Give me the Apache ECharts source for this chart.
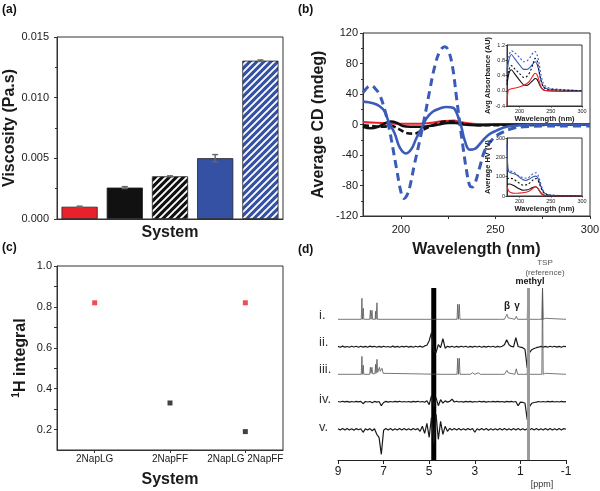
<!DOCTYPE html>
<html><head><meta charset="utf-8">
<script src="https://cdn.jsdelivr.net/npm/echarts@6/dist/echarts.min.js"></script>
<style>html,body{margin:0;padding:0;background:#fff}#c{width:600px;height:491px}</style>
</head><body><div id="c"></div>
<script>
const FONT = 'Liberation Sans, Arial, Helvetica, sans-serif';

// ---------- (a) viscosity ----------
const viscCategories = ['2NapLG', '2NapFF', '2NapFF (ii)', '2NapLG 2NapFF', '2NapLG 2NapFF (ii)'];
const viscValues = [0.00101, 0.00259, 0.00352, 0.00501, 0.01305];
const viscErrors = [0.00005, 0.00008, 0.00004, 0.00030, 0.00006];

// ---------- (b) CD ----------
const cdRed = [[180,3],[190,2],[200,1],[210,1],[215,2],[222,4],[228,5],[232,3],[238,1],[245,0],[300,0]];
const cdBlackSolid = [[180,-3],[184,-5],[188,-3],[192,2],[195,4],[198,2],[201,-2],[205,-3],[210,-3],[215,-2],[220,0],[225,2],[229,2],[233,0],[240,-1],[250,0],[300,0]];
const cdBlackDash = [[180,-1],[184,-2],[190,-3],[195,-2],[199,-6],[203,-11],[207,-12],[211,-8],[215,-3],[219,1],[223,4],[227,4],[231,2],[236,0],[245,-1],[300,0]];
const cdBlueSolid = [[180,30],[185.3,28],[188.8,24],[191.5,17],[193.2,6],[196.8,-12],[199.4,-30],[202.6,-38],[205.6,-32],[208.2,-18],[210.9,-5],[213.5,8],[217,17],[220.6,21],[224,23],[227.6,22],[230.3,10],[232,-3],[233.8,-21],[236.4,-33],[239.1,-32],[242.6,-23],[246.1,-14],[250.6,-8],[255.9,-3],[262.9,-1],[270,0],[300,0]];
const cdBlueDash = [[180,42],[181,45],[182.5,49],[184.4,51],[186.5,47],[188.8,39],[191.5,19],[194,-7],[195,-20],[197.6,-56],[200.3,-91],[201.7,-97],[203,-94],[204.7,-82],[207.3,-51],[210,-21],[212.6,10],[215.3,45],[217.9,76],[220.6,96],[223.2,102],[225,98],[227.3,76],[229.4,36],[231.2,1],[232.9,-30],[234.7,-60],[236.4,-80],[237.8,-82],[239.1,-78],[241.7,-56],[244.4,-34],[247.9,-21],[252.3,-12],[259.4,-5],[265,-3],[275,-2],[290,-2],[300,-2]];

// inset: absorbance
const absRed = [[180,-0.4],[181,-0.1],[182.5,0.02],[187,0.05],[195,0.08],[203,0.12],[210,0.17],[216,0.25],[221,0.38],[225,0.46],[228,0.42],[231,0.28],[234,0.12],[238,0.02],[245,0.0],[300,-0.02]];
const absBlackSolid = [[180,0.15],[183,0.45],[187,0.55],[192,0.45],[200,0.28],[207,0.15],[212,0.14],[217,0.2],[222,0.28],[225,0.32],[228,0.3],[231,0.2],[234,0.1],[238,0.03],[245,0.0],[300,-0.02]];
const absBlackDash = [[180,0.25],[183,0.55],[187,0.66],[192,0.58],[200,0.45],[207,0.35],[212,0.38],[217,0.5],[222,0.72],[225,0.85],[228,0.8],[231,0.55],[234,0.3],[238,0.1],[243,0.04],[250,0.02],[300,0.0]];
const absBlueSolid = [[180,0.45],[183,0.8],[187,0.95],[192,0.85],[200,0.68],[207,0.56],[212,0.56],[217,0.62],[222,0.72],[225,0.76],[228,0.7],[231,0.52],[234,0.3],[238,0.12],[243,0.06],[250,0.04],[270,0.02],[300,0.0]];
const absBlueDash = [[180,0.55],[183,0.9],[187,1.05],[192,1.0],[200,0.88],[207,0.76],[212,0.78],[217,0.88],[222,1.0],[225,1.03],[228,0.95],[231,0.75],[234,0.45],[238,0.2],[243,0.1],[250,0.06],[270,0.03],[300,0.0]];

// inset: HV
const hvRed = [[180,55],[182,30],[185,20],[192,14],[200,15],[208,18],[215,25],[221,38],[225,48],[228,45],[231,32],[234,15],[238,5],[245,1],[300,0]];
const hvBlackSolid = [[180,60],[184,62],[190,55],[198,40],[206,30],[213,32],[220,42],[225,48],[228,45],[231,32],[234,18],[238,7],[245,2],[300,0]];
const hvBlackDash = [[180,90],[184,92],[190,88],[198,70],[206,56],[213,60],[220,78],[225,90],[228,88],[231,70],[234,45],[238,20],[243,8],[250,3],[300,0]];
const hvBlueSolid = [[180,270],[181,170],[183,125],[188,118],[195,110],[203,90],[210,80],[216,88],[222,100],[226,103],[229,95],[232,70],[236,35],[240,15],[248,5],[270,2],[300,0]];
const hvBlueDash = [[180,140],[184,130],[190,125],[197,108],[205,95],[212,92],[218,105],[223,118],[227,120],[230,105],[233,75],[237,35],[241,15],[248,6],[270,2],[300,0]];

// ---------- (c) 1H integral ----------
const intCategories = ['2NapLG', '2NapFF', '2NapLG 2NapFF'];
const intRed = [0.82, null, 0.82];
const intBlack = [null, 0.33, 0.19];

// ---------- (d) NMR (relative intensity, arbitrary units) ----------
const nmrI = [[9,0],[7.98,0],[7.95,21],[7.93,0],[7.91,0],[7.89,11],[7.87,0],[7.61,0],[7.58,9],[7.55,0],[7.54,0],[7.51,9],[7.48,0],[7.37,0],[7.35,8],[7.33,0],[7.31,0],[7.29,16.5],[7.27,0],[4.43,0],[4.40,1.5],[4.37,0],[3.78,0],[3.75,15],[3.72,0],[3.71,0],[3.68,15],[3.65,0],[1.93,0],[1.88,1],[1.83,0],[1.7,0],[1.64,1.5],[1.59,5],[1.54,1.5],[1.48,0],[1.24,0],[1.18,3],[1.12,0],[0.7,0],[0.67,31.3],[0.64,0],[0.2,0],[0.16,1],[0.12,0],[0.06,0],[0.03,31.3],[0.0,0],[-0.05,0],[-0.09,1],[-0.13,0],[-1,0]];
const nmrIII = [[9,0],[7.98,0],[7.95,18],[7.93,0],[7.91,0],[7.89,9],[7.87,0],[7.61,0],[7.58,7],[7.55,1],[7.54,1],[7.51,7],[7.48,0.5],[7.38,0.5],[7.35,10],[7.33,1],[7.31,1],[7.29,15],[7.26,2],[7.22,3],[7.18,7],[7.15,3],[7.11,4],[7.07,6],[7.02,1],[6.95,0],[4.43,0],[4.40,1.5],[4.37,0],[3.78,0],[3.75,16],[3.72,0],[3.71,0],[3.68,16],[3.65,0],[3.2,0],[3.1,1.5],[3.0,0],[2.95,0],[2.85,1.5],[2.75,0],[1.93,0],[1.88,1],[1.83,0],[1.7,0],[1.64,1.5],[1.59,4],[1.54,1.5],[1.48,0],[1.24,0],[1.18,5.5],[1.12,0],[0.7,0],[0.67,86.3],[0.64,0],[0.06,0],[0.03,86.3],[0.0,0],[-0.05,0],[-0.09,1],[-0.13,0],[-1,0]];
// noisy spectra sampled every 0.1 ppm from 9.0 down to -1.0
const nmrStep = 0.1;
const nmrII = [
  0.3,-0.5,0.6,-0.4,0.2,-0.6,0.5,-0.3,0.4,-0.5,
  0.5,-0.4,0.3,-0.6,0.6,-0.2,0.4,-0.5,0.3,-0.4,
  0.5,-0.3,0.2,-0.5,0.6,-0.4,0.3,-0.6,0.4,-0.2,
  0.5,-0.4,0.3,-0.5,0.4,-0.3,0.6,-0.5,0.8,1.5,
  6,14,-4,-6,2,-1,8,-1.5,0.5,-0.4,
  0.4,-0.5,0.3,-0.4,0.5,-0.3,0.4,-0.5,0.3,-0.4,
  0.5,-0.3,0.4,-0.5,0.3,-0.4,0.5,-0.3,0.4,-0.5,
  0.3,-0.3,0.5,2,7,2,0.3,-0.2,9,0.2,
  -0.5,-1,-2.5,-21,-6,-3,-1.8,-1,-0.5,0.3,
  -0.4,0.3,-0.5,0.4,-0.3,0.5,-0.4,0.3,-0.5,0.4,
  0];
const nmrIV = [
  0.2,-0.3,0.4,-0.2,0.3,-0.4,0.2,-0.3,0.3,-0.2,
  0.3,-2,0.2,-0.3,0.2,-1,0.3,-0.4,0.2,-4,
  -0.8,0.3,-0.4,0.2,-0.3,0.3,-0.2,0.4,-0.3,0.2,
  -0.3,0.2,-0.4,0.3,-0.2,0.4,-0.3,0.2,-0.5,1,
  -3,6,-5,4,-4,2,-1.5,0.8,-0.4,0.3,
  2.5,-0.3,0.4,-0.3,0.2,-0.4,0.3,-0.2,0.3,-0.4,
  0.2,-0.3,0.4,-0.2,0.3,-0.4,0.2,-0.3,0.3,-0.2,
  0.3,-0.2,0.2,-0.4,0.3,-0.2,0.3,-0.3,0.2,-4,
  -0.5,-0.6,-1.5,-18,-5,-1.5,-0.8,-0.4,0.2,-0.3,
  0.2,-0.3,0.3,-0.2,0.3,-0.3,0.2,-0.3,0.3,-0.2,
  0];
const nmrV = [
  0.5,-0.8,0.7,-0.6,0.9,-0.7,0.6,-0.9,0.7,-0.5,
  0.6,-3,0.5,-0.8,0.7,-1.5,0.6,-5,-8,-25,
  -1,0.8,-0.6,0.7,-0.9,0.5,-0.7,0.8,-0.6,0.7,
  -0.8,0.6,-0.7,0.9,-0.5,0.7,-2,3,-4,6,
  -8,12,-14,15,-10,8,-5,3,-2,1,
  -0.8,0.7,-0.6,0.9,-0.7,0.6,-0.8,0.7,-0.5,0.8,
  -3,0.6,-0.7,0.8,-0.6,0.7,-0.9,0.5,-0.7,0.6,
  -0.8,0.7,-0.6,0.8,-0.7,0.6,-0.8,0.7,-0.6,0.8,
  -0.7,0.6,-0.8,0.5,-0.7,0.8,-0.6,0.7,-0.8,0.6,
  -0.7,0.8,-0.6,0.7,-0.8,0.6,-0.7,0.8,-0.6,0.7,
  0];
const nmrLabels = ['i.', 'ii.', 'iii.', 'iv.', 'v.'];
const waterBand = [4.69, 4.91];
const methylPpm = 0.67;

// ---------- layout / style ----------
const RED = '#e8212b', BLACK = '#111111', BLUE = '#3451a3', BLUEL = '#3a5cb8';
const nmrOffsets = [140.7, 113.3, 85.7, 58.3, 30.7];

function hatch(bg) {
  const c = document.createElement('canvas');
  c.width = 7; c.height = 7;
  const g = c.getContext('2d');
  g.fillStyle = bg; g.fillRect(0, 0, 7, 7);
  g.strokeStyle = '#ffffff'; g.lineWidth = 1.9;
  g.beginPath();
  g.moveTo(-1, 8); g.lineTo(8, -1);
  g.moveTo(-1, 1); g.lineTo(1, -1);
  g.moveTo(6, 8); g.lineTo(8, 6);
  g.stroke();
  return { image: c, repeat: 'repeat' };
}
const barFills = [RED, BLACK, hatch(BLACK), BLUE, hatch(BLUE)];

const txt = '#1a1a1a';
function axisBase(extra) {
  return Object.assign({
    axisLine: { show: true, onZero: false, lineStyle: { color: '#333', width: 1 } },
    axisTick: { show: true, length: 3, lineStyle: { color: '#333' } },
    axisLabel: { color: txt, fontFamily: FONT, fontSize: 11 },
    splitLine: { show: false },
    nameTextStyle: { color: txt, fontFamily: FONT, fontWeight: 'bold', fontSize: 16 },
    nameLocation: 'middle'
  }, extra);
}
const gridBase = { show: true, borderColor: '#333', borderWidth: 1, backgroundColor: 'transparent', containLabel: false, outerBoundsMode: 'none' };

const chart = echarts.init(document.getElementById('c'), null, { renderer: 'canvas' });

const nmrGridOf = (vals, off) => vals.map((v, k) => [Math.round((9 - k * nmrStep) * 100) / 100, v + off]);
const shift = (arr, off) => arr.map(p => [p[0], p[1] + off]);

const series = [];
// (a) bars
series.push({
  type: 'bar', xAxisIndex: 0, yAxisIndex: 0, barCategoryGap: '20%',
  data: viscValues.map((v, i) => ({ value: v, itemStyle: { color: barFills[i] } })),
  itemStyle: { borderColor: '#222', borderWidth: 0.8 }, z: 2
});
series.push({
  type: 'custom', xAxisIndex: 0, yAxisIndex: 0, z: 5,
  data: viscValues.map((v, i) => [i, v, viscErrors[i]]),
  renderItem: (p, api) => {
    const x = api.value(0), v = api.value(1), e = api.value(2);
    const hi = api.coord([x, v + e]), lo = api.coord([x, v - e]);
    const w = 3;
    const st = { stroke: '#666', lineWidth: 1.4 };
    return { type: 'group', children: [
      { type: 'line', shape: { x1: hi[0], y1: hi[1], x2: lo[0], y2: lo[1] }, style: st },
      { type: 'line', shape: { x1: hi[0] - w, y1: hi[1], x2: hi[0] + w, y2: hi[1] }, style: st },
      { type: 'line', shape: { x1: lo[0] - w, y1: lo[1], x2: lo[0] + w, y2: lo[1] }, style: st }
    ]};
  }
});
// (b) CD main
function ln(data, color, dashed, width, xi, yi, z, smooth) {
  return { type: 'line', xAxisIndex: xi, yAxisIndex: yi, data, showSymbol: false, symbol: 'none',
    smooth: smooth === undefined ? 0.4 : smooth, z, clip: true,
    lineStyle: { color, width, type: dashed ? dashed : 'solid', cap: 'butt' } };
}
series.push(ln(cdRed, RED, null, 2.2, 1, 1, 2));
series.push(ln(cdBlackSolid, BLACK, null, 2.6, 1, 1, 2));
series.push(ln(cdBlackDash, BLACK, [6, 3], 2.6, 1, 1, 2));
series.push(ln(cdBlueSolid, BLUEL, null, 2.6, 1, 1, 2));
series.push(ln(cdBlueDash, BLUEL, [8, 5], 3, 1, 1, 2));
// insets
[[absBlueDash, BLUEL, [2, 2]], [absBlueSolid, BLUEL, null], [absBlackDash, BLACK, [2, 2]], [absBlackSolid, BLACK, null], [absRed, RED, null]]
  .forEach(s => series.push(ln(s[0], s[1], s[2], 1.1, 2, 2, 6, 0.3)));
[[hvBlueDash, BLUEL, [2, 2]], [hvBlueSolid, BLUEL, null], [hvBlackDash, BLACK, [2, 2]], [hvBlackSolid, BLACK, null], [hvRed, RED, null]]
  .forEach(s => series.push(ln(s[0], s[1], s[2], 1.1, 3, 3, 6, 0.3)));
// (c)
series.push({ type: 'scatter', xAxisIndex: 4, yAxisIndex: 4, symbol: 'rect', symbolSize: 5, data: intRed, itemStyle: { color: RED } });
series.push({ type: 'scatter', xAxisIndex: 4, yAxisIndex: 4, symbol: 'rect', symbolSize: 5, data: intBlack, itemStyle: { color: BLACK } });
// (d)
series.push({ type: 'line', xAxisIndex: 5, yAxisIndex: 5, data: [], z: 1, silent: true,
  markLine: { silent: true, symbol: 'none', label: { show: false },
    lineStyle: { color: '#9a9a9a', width: 3, type: 'solid' }, data: [{ xAxis: methylPpm }] } });
series.push(ln(shift(nmrI, nmrOffsets[0]), '#555', null, 0.8, 5, 5, 3, false));
series.push(ln(nmrGridOf(nmrII, nmrOffsets[1]), '#1a1a1a', null, 1.2, 5, 5, 3, false));
series.push(ln(shift(nmrIII, nmrOffsets[2]), '#555', null, 0.8, 5, 5, 3, false));
series.push(ln(nmrGridOf(nmrIV, nmrOffsets[3]), '#1a1a1a', null, 1.2, 5, 5, 3, false));
series.push(ln(nmrGridOf(nmrV, nmrOffsets[4]), '#1a1a1a', null, 1.2, 5, 5, 3, false));
series.push({ type: 'line', xAxisIndex: 5, yAxisIndex: 5, data: [], z: 8, silent: true,
  markArea: { silent: true, itemStyle: { color: '#000', opacity: 1 },
    data: [[{ xAxis: waterBand[0] }, { xAxis: waterBand[1] }]] } });

const insetLabel = { color: txt, fontFamily: FONT, fontSize: 5.5, margin: 2 };
const insetName = { color: txt, fontFamily: FONT, fontWeight: 'bold', fontSize: 7.5 };

const option = {
  animation: false,
  backgroundColor: '#fff',
  textStyle: { fontFamily: FONT },
  grid: [
    Object.assign({}, gridBase, { left: 57, top: 37, width: 226, height: 182 }),
    Object.assign({}, gridBase, { left: 363, top: 33, width: 227, height: 183 }),
    Object.assign({}, gridBase, { left: 507, top: 45, width: 75, height: 61, backgroundColor: '#fff', z: 3 }),
    Object.assign({}, gridBase, { left: 507, top: 138, width: 75, height: 58, backgroundColor: '#fff', z: 3 }),
    Object.assign({}, gridBase, { left: 57, top: 266, width: 226, height: 184 }),
    { left: 338, top: 288, width: 228, height: 172, show: false, containLabel: false, outerBoundsMode: 'none' }
  ],
  xAxis: [
    axisBase({ gridIndex: 0, type: 'category', data: viscCategories, name: 'System', nameGap: 6,
      axisTick: { show: false }, axisLabel: { show: false } }),
    axisBase({ gridIndex: 1, type: 'value', min: 180, max: 300, name: 'Wavelength (nm)', nameGap: 26,
      axisLabel: { color: txt, fontFamily: FONT, fontSize: 11, customValues: [200, 250, 300] },
      axisTick: { show: true, length: 3, lineStyle: { color: '#333' }, customValues: [200, 225, 250, 275, 300] } }),
    axisBase({ gridIndex: 2, type: 'value', min: 180, max: 300, name: 'Wavelength (nm)', nameGap: 8, z: 4,
      nameTextStyle: insetName, axisLabel: Object.assign({ customValues: [200, 250, 300] }, insetLabel),
      axisTick: { show: true, length: 1.5, customValues: [200, 250, 300], lineStyle: { color: '#333' } } }),
    axisBase({ gridIndex: 3, type: 'value', min: 180, max: 300, name: 'Wavelength (nm)', nameGap: 8, z: 4,
      nameTextStyle: insetName, axisLabel: Object.assign({ customValues: [200, 250, 300] }, insetLabel),
      axisTick: { show: true, length: 1.5, customValues: [200, 250, 300], lineStyle: { color: '#333' } } }),
    axisBase({ gridIndex: 4, type: 'category', data: intCategories, name: 'System', nameGap: 22,
      axisTick: { show: true, alignWithLabel: true, interval: 0, length: 3, lineStyle: { color: '#333' } },
      axisLabel: { color: txt, fontFamily: FONT, fontSize: 10, margin: 4, interval: 0, hideOverlap: false } }),
    axisBase({ gridIndex: 5, type: 'value', min: -1, max: 9, interval: 2, inverse: true,
      axisTick: { show: true, length: 4, lineStyle: { color: '#222' } },
      axisLine: { show: true, onZero: false, lineStyle: { color: '#222', width: 1 } },
      axisLabel: { color: txt, fontFamily: FONT, fontSize: 12, margin: 6 } })
  ],
  yAxis: [
    axisBase({ gridIndex: 0, type: 'value', min: 0, max: 0.015, interval: 0.005, name: 'Viscosity (Pa.s)', nameGap: 33,
      axisLabel: { color: txt, fontFamily: FONT, fontSize: 11, formatter: v => v.toFixed(3) },
      minorTick: { show: true, splitNumber: 2, length: 2, lineStyle: { color: '#333' } } }),
    axisBase({ gridIndex: 1, type: 'value', min: -120, max: 120, interval: 40, name: 'Average CD (mdeg)', nameGap: 36,
      axisLabel: { color: txt, fontFamily: FONT, fontSize: 11, margin: 5 },
      minorTick: { show: true, splitNumber: 2, length: 2, lineStyle: { color: '#333' } } }),
    axisBase({ gridIndex: 2, type: 'value', min: -0.4, max: 1.2, interval: 0.4, name: 'Avg Absorbance (AU)', nameGap: 9, z: 4,
      nameTextStyle: insetName, axisLabel: Object.assign({ formatter: v => v.toFixed(1) }, insetLabel),
      axisTick: { show: true, length: 1.5, lineStyle: { color: '#333' } } }),
    axisBase({ gridIndex: 3, type: 'value', min: 0, max: 300, interval: 100, name: 'Average HV (V)', nameGap: 10, z: 4,
      nameTextStyle: insetName, axisLabel: insetLabel,
      axisTick: { show: true, length: 1.5, lineStyle: { color: '#333' } } }),
    axisBase({ gridIndex: 4, type: 'value', min: 0.1, max: 1.0, name: '{sup|1}{m|H integral}', nameGap: 28,
      nameTextStyle: { color: txt, fontFamily: FONT, fontWeight: 'bold', fontSize: 16,
        rich: { m: { fontFamily: FONT, fontWeight: 'bold', fontSize: 16, lineHeight: 18, verticalAlign: 'bottom', color: txt },
                sup: { fontFamily: FONT, fontWeight: 'bold', fontSize: 10, lineHeight: 18, verticalAlign: 'top', color: txt } } },
      axisLabel: { color: txt, fontFamily: FONT, fontSize: 11, margin: 5, customValues: [0.2, 0.4, 0.6, 0.8, 1.0], formatter: v => v.toFixed(1) },
      axisTick: { show: true, length: 3, lineStyle: { color: '#333' }, customValues: [0.2, 0.3, 0.4, 0.5, 0.6, 0.7, 0.8, 0.9, 1.0] } }),
    { gridIndex: 5, type: 'value', min: 0, max: 172, show: false }
  ],
  graphic: [
    { type: 'text', x: 2, y: 10, style: { text: '(a)', font: 'bold 12px ' + FONT, fill: '#111', verticalAlign: 'middle' } },
    { type: 'text', x: 298, y: 10, style: { text: '(b)', font: 'bold 12px ' + FONT, fill: '#111', verticalAlign: 'middle' } },
    { type: 'text', x: 2, y: 248, style: { text: '(c)', font: 'bold 12px ' + FONT, fill: '#111', verticalAlign: 'middle' } },
    { type: 'text', x: 298, y: 250, style: { text: '(d)', font: 'bold 12px ' + FONT, fill: '#111', verticalAlign: 'middle' } },
    { type: 'text', x: 542, y: 485, style: { text: '[ppm]', font: '9px ' + FONT, fill: '#333', align: 'center', verticalAlign: 'middle' } },
    { type: 'text', x: 530, y: 282, style: { text: 'methyl', font: 'bold 9px ' + FONT, fill: '#111', align: 'center', verticalAlign: 'middle' } },
    { type: 'text', x: 545, y: 263, style: { text: 'TSP', font: '8px ' + FONT, fill: '#555', align: 'center', verticalAlign: 'middle' } },
    { type: 'text', x: 545, y: 273, style: { text: '(reference)', font: '8px ' + FONT, fill: '#555', align: 'center', verticalAlign: 'middle' } },
    { type: 'text', x: 507, y: 306, style: { text: 'β', font: 'bold 10px ' + FONT, fill: '#222', align: 'center', verticalAlign: 'middle' } },
    { type: 'text', x: 517, y: 306, style: { text: 'γ', font: 'bold 10px ' + FONT, fill: '#222', align: 'center', verticalAlign: 'middle' } }
  ].concat(nmrLabels.map((t, i) => ({ type: 'text', x: 319, y: [315, 342.3, 369.3, 399, 427.3][i],
      style: { text: t, font: '13px ' + FONT, fill: '#333', verticalAlign: 'middle' } }))),
  series
};
chart.setOption(option);
</script>
</body></html>
